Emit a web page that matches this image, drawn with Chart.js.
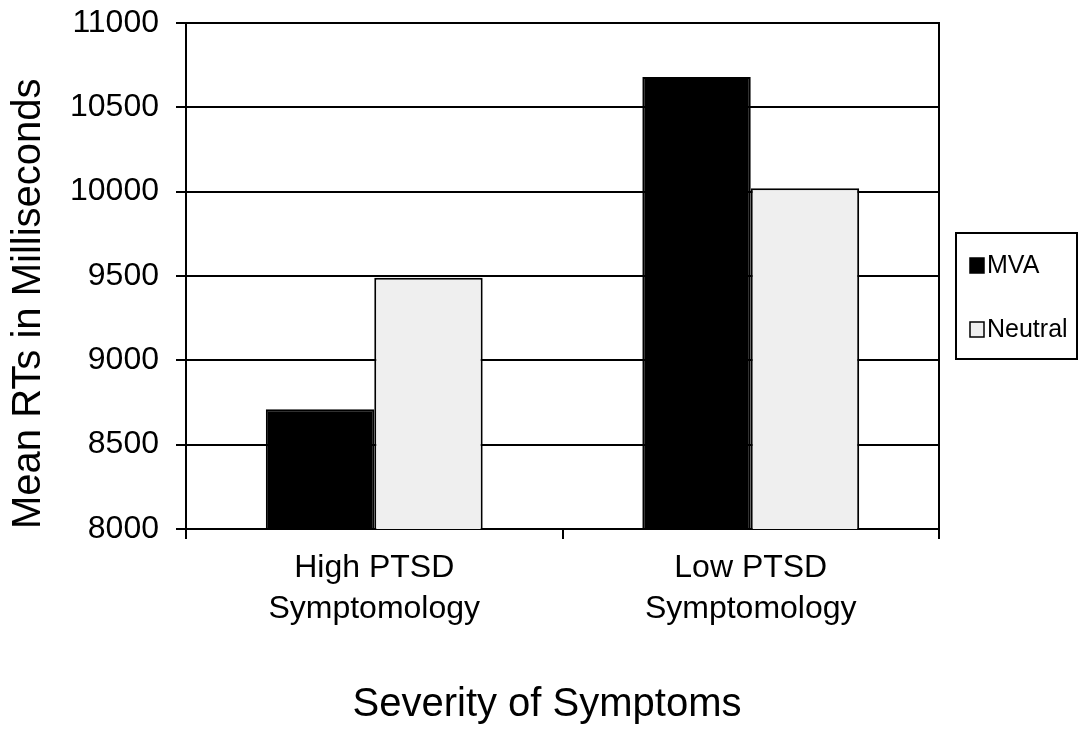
<!DOCTYPE html>
<html>
<head>
<meta charset="utf-8">
<script src="https://cdn.jsdelivr.net/npm/chart.js@4/dist/chart.umd.min.js"></script>
<style>
  body { margin: 0; background: #fff; }
</style>
</head>
<body>
<canvas id="rtChart" width="1079" height="740"></canvas>
<script>
const categories = [['High PTSD', 'Symptomology'], ['Low PTSD', 'Symptomology']];
const mvaValues = [8710, 10680];
const neutralValues = [9490, 10020];
const yMin = 8000;
const yMax = 11000;
const yStep = 500;

const fontFamily = '"Liberation Sans", Arial, sans-serif';

// legend box drawn to the right of the plot, like the original
const boxLegend = {
    id: 'boxLegend',
    afterDraw(chart) {
        const {ctx, chartArea} = chart;
        const left = chartArea.right + 17;
        const top = 233;
        ctx.save();
        ctx.strokeStyle = '#000';
        ctx.lineWidth = 2;
        ctx.strokeRect(left, top, 121, 126);
        ctx.font = '25px ' + fontFamily;
        ctx.textBaseline = 'middle';
        chart.data.datasets.forEach((ds, i) => {
            const y = 265 + i * 64;
            ctx.fillStyle = ds.backgroundColor;
            ctx.fillRect(left + 14, y - 7, 14, 15);
            ctx.lineWidth = 1.5;
            ctx.strokeRect(left + 14, y - 7, 14, 15);
            ctx.fillStyle = '#000';
            ctx.fillText(ds.label, left + 31, y + 1);
        });
        ctx.restore();
    }
};

new Chart(document.getElementById('rtChart'), {
    type: 'bar',
    data: {
        labels: categories,
        datasets: [{
            label: 'MVA',
            data: mvaValues,
            backgroundColor: '#000000',
            borderColor: '#000000',
            borderWidth: 2,
            categoryPercentage: 0.576,
            barPercentage: 1
        }, {
            label: 'Neutral',
            data: neutralValues,
            backgroundColor: '#efefef',
            borderColor: '#000000',
            borderWidth: 2,
            categoryPercentage: 0.576,
            barPercentage: 1
        }]
    },
    options: {
        responsive: false,
        animation: false,
        layout: {padding: {left: 15, right: 0, top: 23, bottom: 0}},
        plugins: {
            legend: {display: false},
            tooltip: {enabled: false},
            title: {
                display: true,
                position: 'bottom',
                text: 'Severity of Symptoms',
                color: '#000',
                font: {family: fontFamily, size: 40, weight: 'normal', lineHeight: 1.2},
                padding: {top: 0, bottom: 11}
            }
        },
        scales: {
            x: {
                afterFit: s => { s.height = 152; },
                grid: {
                    display: true,
                    offset: true,
                    drawOnChartArea: false,
                    drawTicks: true,
                    tickLength: 10,
                    color: '#000',
                    lineWidth: 2
                },
                border: {display: true, color: '#000', width: 2},
                ticks: {
                    color: '#000',
                    padding: 9,
                    maxRotation: 0,
                    font: {family: fontFamily, size: 32, lineHeight: 1.28}
                }
            },
            y: {
                min: yMin,
                max: yMax,
                afterFit: s => {
                    s.width = 171;
                    // the label gap should not push the plot down
                    s.paddingTop = 12;
                    s.paddingBottom = 12;
                },
                grid: {color: '#000', lineWidth: 2, tickLength: 10},
                border: {display: true, color: '#000', width: 2},
                ticks: {
                    stepSize: yStep,
                    color: '#000',
                    padding: 17,
                    callback: v => v,
                    font: {family: fontFamily, size: 32}
                },
                title: {
                    display: true,
                    text: 'Mean RTs in Milliseconds',
                    align: 'start',
                    color: '#000',
                    padding: 0,
                    font: {family: fontFamily, size: 40, lineHeight: 0.7}
                }
            },
            yRight: {
                position: 'right',
                afterFit: s => { s.width = 140; },
                grid: {display: false},
                ticks: {display: false},
                border: {display: true, color: '#000', width: 2}
            }
        }
    },
    plugins: [boxLegend]
});
</script>
</body>
</html>
